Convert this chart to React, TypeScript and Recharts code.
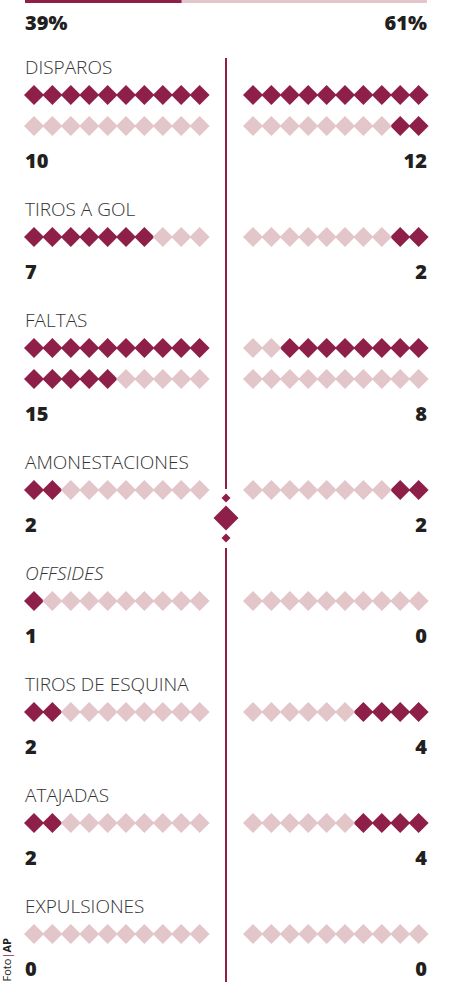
import { ScatterChart, Scatter, XAxis, YAxis, ReferenceArea, ReferenceLine } from "recharts";

// datos del partido
const STATS = ["DISPAROS", "TIROS A GOL", "FALTAS", "AMONESTACIONES", "OFFSIDES", "TIROS DE ESQUINA", "ATAJADAS", "EXPULSIONES"];
const LOCAL = [10, 7, 15, 2, 1, 2, 2, 0];
const VISITA = [12, 2, 8, 2, 0, 4, 4, 0];
const ITALICS = ["OFFSIDES"];
const POSESION = [39, 61];

const DARK = "#8e1f48";
const LIGHT = "#e3c6c9";
const TEXT = "#231f20";
const W = 451;
const H = 982;

// layout
const LEFT_X = 34;
const RIGHT_X = 253;
const STEP = 18.4;
const PER_ROW = 10;
const MID_X = 226;
const FIRST_LABEL = 67;

interface Dot { x: number; y: number; on: boolean }
interface Txt { x: number; y: number; text: string; kind: string; anchor: string }

const dots: Dot[] = [];
const texts: Txt[] = [];
let labelY = FIRST_LABEL;
STATS.forEach((name, i) => {
  const l = LOCAL[i];
  const r = VISITA[i];
  const rows = Math.max(1, Math.ceil(Math.max(l, r) / PER_ROW));
  texts.push({ x: 25, y: labelY, text: name, kind: ITALICS.includes(name) ? "italic" : "label", anchor: "start" });
  for (let row = 0; row < rows; row++) {
    const y = labelY + 28 + row * 31;
    for (let k = 0; k < PER_ROW; k++) {
      const n = row * PER_ROW + k;
      dots.push({ x: LEFT_X + k * STEP, y, on: n < l });
      // visita llena desde la derecha
      dots.push({ x: RIGHT_X + (PER_ROW - 1 - k) * STEP, y, on: n < r });
    }
  }
  const numY = labelY + 28 + (rows - 1) * 31 + 35;
  texts.push({ x: 25, y: numY, text: String(l), kind: "num", anchor: "start" });
  texts.push({ x: 427, y: numY, text: String(r), kind: "num", anchor: "end" });
  labelY = numY + 48;
});
texts.push({ x: 25, y: 23, text: POSESION[0] + "%", kind: "num", anchor: "start" });
texts.push({ x: 427, y: 23, text: POSESION[1] + "%", kind: "num", anchor: "end" });

const ornament = [
  { x: MID_X, y: 498, s: 4.5 },
  { x: MID_X, y: 518, s: 12.5 },
  { x: MID_X, y: 538, s: 4.5 },
];

const splitX = 25 + (POSESION[0] / 100) * (427 - 25);

function Diamond(props: any) {
  const { cx, cy, payload } = props;
  const s = payload.s ?? 10;
  const fill = payload.s ? DARK : payload.on ? DARK : LIGHT;
  return (
    <polygon
      points={`${cx},${cy - s} ${cx + s},${cy} ${cx},${cy + s} ${cx - s},${cy}`}
      fill={fill}
    />
  );
}

function Label(props: any) {
  const { cx, cy, payload } = props;
  const isNum = payload.kind === "num";
  return (
    <text
      x={cx}
      y={cy}
      dy="0.36em"
      textAnchor={payload.anchor}
      fill={isNum ? TEXT : "#333"}
      fontFamily="'Open Sans', sans-serif"
      fontSize={isNum ? 20 : 19}
      fontWeight={isNum ? 800 : 300}
      fontStyle={payload.kind === "italic" ? "italic" : "normal"}
    >
      {payload.text}
    </text>
  );
}

export default function App() {
  return (
    <div style={{ position: "absolute", left: 0, top: 0, width: W, height: H, background: "#fff", overflow: "hidden" }}>
      <ScatterChart width={W} height={H} margin={{ top: 0, right: 0, bottom: 0, left: 0 }}>
        <XAxis type="number" dataKey="x" domain={[0, W]} hide />
        <YAxis type="number" dataKey="y" domain={[0, H]} reversed hide />
        <ReferenceArea x1={25} x2={splitX} y1={0} y2={3} fill={DARK} fillOpacity={1} stroke="none" />
        <ReferenceArea x1={splitX} x2={427} y1={0} y2={3} fill={LIGHT} fillOpacity={1} stroke="none" />
        <ReferenceLine segment={[{ x: MID_X, y: 58 }, { x: MID_X, y: 489 }]} stroke={DARK} strokeWidth={2} />
        <ReferenceLine segment={[{ x: MID_X, y: 548 }, { x: MID_X, y: H }]} stroke={DARK} strokeWidth={2} />
        <Scatter data={dots} shape={Diamond} isAnimationActive={false} />
        <Scatter data={ornament} shape={Diamond} isAnimationActive={false} />
        <Scatter data={texts} shape={Label} isAnimationActive={false} />
      </ScatterChart>
      <div
        style={{
          position: "absolute",
          left: -19,
          top: 950,
          width: 50,
          height: 13,
          transform: "rotate(-90deg)",
          fontFamily: "'Open Sans', sans-serif",
          fontSize: 11,
          lineHeight: "13px",
          color: TEXT,
          whiteSpace: "nowrap",
        }}
      >
        Foto<span style={{ color: DARK }}>|</span><b>AP</b>
      </div>
    </div>
  );
}
